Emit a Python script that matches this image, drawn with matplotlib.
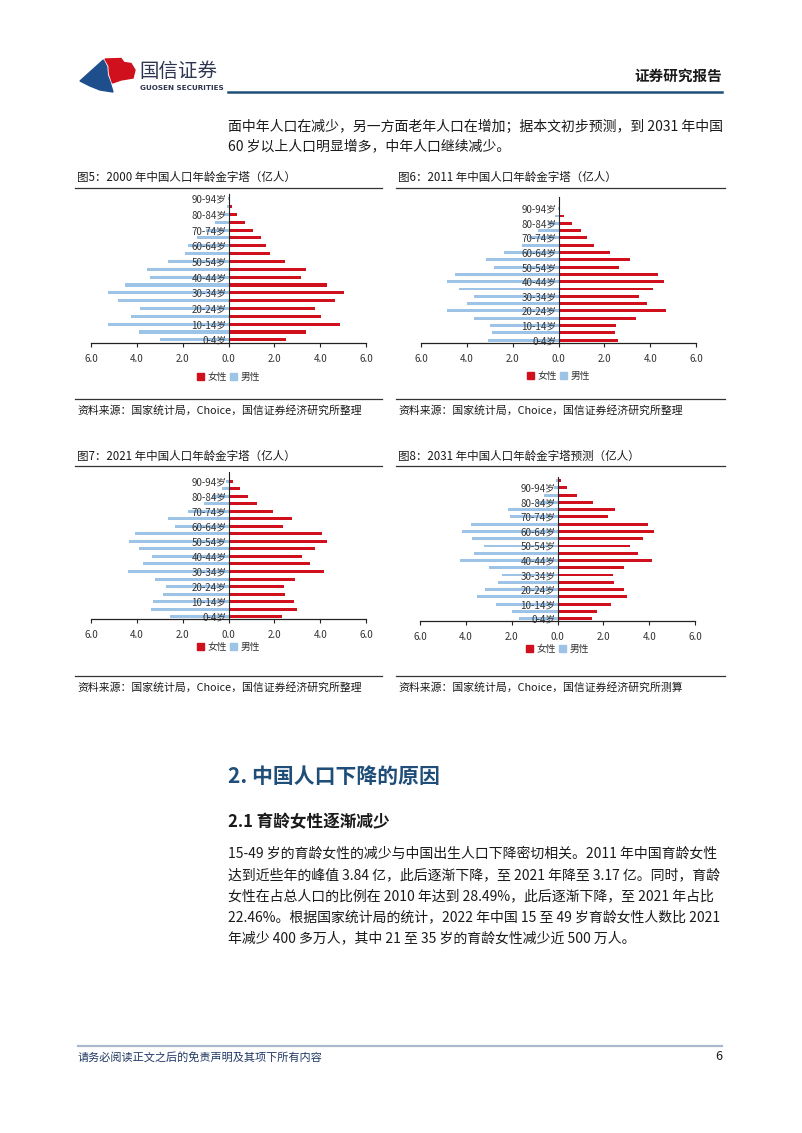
import matplotlib
matplotlib.use('Agg')
import matplotlib.pyplot as plt
from matplotlib.patches import Polygon, Patch
from matplotlib.lines import Line2D

plt.rcParams['font.family'] = ['Noto Sans CJK SC', 'DejaVu Sans']

W, H = 802, 1133

# age groups (5 year bands)
ages = ['0-4岁', '5-9岁', '10-14岁', '15-19岁', '20-24岁', '25-29岁', '30-34岁',
        '35-39岁', '40-44岁', '45-49岁', '50-54岁', '55-59岁', '60-64岁',
        '65-69岁', '70-74岁', '75-79岁', '80-84岁', '85-89岁', '90-94岁']
ages_2031 = ages + ['95-99岁']

female_2000 = [2.52, 3.39, 4.85, 4.03, 3.78, 4.66, 5.02, 4.29, 3.16, 3.36,
               2.47, 1.82, 1.63, 1.40, 1.06, 0.71, 0.39, 0.17, 0.03]
male_2000 = [3.01, 3.89, 5.24, 4.26, 3.86, 4.83, 5.24, 4.51, 3.41, 3.54,
             2.62, 1.92, 1.75, 1.38, 1.00, 0.57, 0.22, 0.08, 0.02]

female_2011 = [2.58, 2.45, 2.53, 3.36, 4.69, 3.88, 3.52, 4.13, 4.61, 4.35,
               2.64, 3.11, 2.26, 1.56, 1.26, 0.96, 0.57, 0.25, 0.07]
male_2011 = [3.09, 2.92, 2.98, 3.69, 4.86, 3.99, 3.68, 4.36, 4.85, 4.53,
             2.80, 3.18, 2.36, 1.59, 1.27, 0.88, 0.47, 0.16, 0.03]

female_2021 = [2.32, 3.01, 2.87, 2.46, 2.43, 2.91, 4.16, 3.55, 3.20, 3.77,
               4.29, 4.07, 2.38, 2.78, 1.96, 1.23, 0.84, 0.51, 0.19]
male_2021 = [2.54, 3.38, 3.28, 2.84, 2.71, 3.20, 4.39, 3.74, 3.33, 3.91,
             4.33, 4.06, 2.33, 2.64, 1.78, 1.09, 0.70, 0.30, 0.10]

female_2031 = [1.51, 1.73, 2.33, 3.02, 2.88, 2.47, 2.43, 2.92, 4.14, 3.53,
               3.18, 3.72, 4.20, 3.94, 2.22, 2.49, 1.57, 0.83, 0.42, 0.15]
male_2031 = [1.66, 1.98, 2.70, 3.52, 3.18, 2.59, 2.43, 2.98, 4.26, 3.63,
             3.20, 3.72, 4.17, 3.76, 2.06, 2.18, 0.90, 0.57, 0.17, 0.05]

xticks = [-6, -4, -2, 0, 2, 4, 6]

RED = '#D0101C'
BLUE = '#9DC3E6'
NAVY = '#1F4E79'
TXT = '#1a1a1a'


def fx(x):
    return x / W


def fy(y):
    return 1 - y / H


fig = plt.figure(figsize=(W / 100, H / 100), dpi=100)


def pyramid(left, right, top, bottom, labels, female, male, ylim, legend_y):
    ax = fig.add_axes([fx(left), fy(bottom), fx(right) - fx(left), fy(top) - fy(bottom)])
    # spine position first, it resets the tick setup
    ax.spines['left'].set_position(('data', 0))
    pos = list(range(len(labels)))
    ax.barh(pos, female, height=0.4, color=RED, zorder=1)
    ax.barh(pos, [-v for v in male], height=0.4, color=BLUE, zorder=1)
    ax.set_xlim(-6, 6)
    ax.set_ylim(*ylim)
    ax.set_xticks(xticks)
    ax.set_xticklabels(['%.1f' % abs(v) for v in xticks])
    ax.set_yticks(pos[::2])
    ax.set_yticklabels(labels[::2])
    ax.tick_params(axis='y', length=0, pad=1.5, labelsize=7, labelcolor='#333333')
    ax.tick_params(axis='x', direction='out', length=3, width=0.8, pad=5,
                   color='#222222', labelsize=7, labelcolor='#333333')
    for s in ['top', 'right']:
        ax.spines[s].set_visible(False)
    ax.spines['left'].set_linewidth(0.8)
    ax.spines['bottom'].set_linewidth(0.9)
    ax.spines['left'].set_color('#222222')
    ax.spines['bottom'].set_color('#222222')
    ax.set_facecolor('none')
    handles = [Patch(color=RED, label='女性'), Patch(color=BLUE, label='男性')]
    fig.legend(handles=handles, loc='center', ncol=2, frameon=False,
               bbox_to_anchor=(fx((left + right) / 2), fy(legend_y)),
               fontsize=7, handlelength=0.7, handleheight=0.7,
               handletextpad=0.35, columnspacing=0.4, labelcolor='#333333')
    return ax


pyramid(91, 366, 194, 343, ages, female_2000, male_2000, (-0.4, 18.6), 377)
pyramid(421, 696, 197, 343, ages, female_2011, male_2011, (-0.4, 19.6), 376)
pyramid(91, 366, 472, 619, ages, female_2021, male_2021, (-0.3, 19.2), 647)
pyramid(420, 695, 477, 621, ages_2031, female_2031, male_2031, (-0.33, 19.5), 649)


def hline(x0, x1, y, color, lw):
    fig.add_artist(Line2D([fx(x0), fx(x1)], [fy(y), fy(y)], color=color, lw=lw))


# header logo
blue_logo = [(80, 81), (103.3, 60), (106.7, 66.7), (107.3, 75), (110, 82),
             (113, 92), (100, 90), (90, 86)]
red_logo = [(105, 59), (121, 58.5), (124, 62.5), (131, 63.5), (135, 70),
            (133, 78), (121, 80), (112.5, 83), (109.5, 74), (109, 66)]
fig.add_artist(Polygon([(fx(x), fy(y)) for x, y in blue_logo], closed=True,
                       color='#1F4E8C', transform=fig.transFigure))
fig.add_artist(Polygon([(fx(x), fy(y)) for x, y in red_logo], closed=True,
                       color='#D0101C', transform=fig.transFigure))
fig.text(fx(139), fy(71), '国信证券', fontsize=14, color='#2E3550', va='center', ha='left')
fig.text(fx(139.5), fy(87.5), 'GUOSEN SECURITIES', fontsize=5.2, color='#2E3550',
         va='center', ha='left', fontweight='bold', family='DejaVu Sans')
fig.text(fx(722), fy(76), '证券研究报告', fontsize=10.5, fontweight='bold', color=TXT,
         va='center', ha='right')
hline(228, 722, 92, NAVY, 1.8)

# opening paragraph
fig.text(fx(228), fy(127), '面中年人口在减少，另一方面老年人口在增加；据本文初步预测，到 2031 年中国',
         fontsize=10, color=TXT, va='center', ha='left')
fig.text(fx(228), fy(146), '60 岁以上人口明显增多，中年人口继续减少。',
         fontsize=10, color=TXT, va='center', ha='left')

# figure titles and source lines
titles = [(77, 177, '图5：2000 年中国人口年龄金字塔（亿人）'),
          (398, 177, '图6：2011 年中国人口年龄金字塔（亿人）'),
          (77, 456, '图7：2021 年中国人口年龄金字塔（亿人）'),
          (398, 456, '图8：2031 年中国人口年龄金字塔预测（亿人）')]
for x, y, t in titles:
    fig.text(fx(x), fy(y), t, fontsize=8.3, color=TXT, va='center', ha='left')

sources = [(77, 410, '资料来源：国家统计局，Choice，国信证券经济研究所整理'),
           (398, 410, '资料来源：国家统计局，Choice，国信证券经济研究所整理'),
           (77, 687, '资料来源：国家统计局，Choice，国信证券经济研究所整理'),
           (398, 687, '资料来源：国家统计局，Choice，国信证券经济研究所测算')]
for x, y, t in sources:
    fig.text(fx(x), fy(y), t, fontsize=7.8, color=TXT, va='center', ha='left')

for x0, x1 in [(75, 382), (396, 725)]:
    hline(x0, x1, 188, '#333333', 0.9)
    hline(x0, x1, 399, '#333333', 0.9)
    hline(x0, x1, 466, '#333333', 0.9)
    hline(x0, x1, 676, '#333333', 0.9)

# section headings
fig.text(fx(228), fy(776), '2. 中国人口下降的原因', fontsize=15, fontweight='bold',
         color=NAVY, va='center', ha='left')
fig.text(fx(228), fy(822), '2.1 育龄女性逐渐减少', fontsize=12, fontweight='bold',
         color=TXT, va='center', ha='left')

para = ['15-49 岁的育龄女性的减少与中国出生人口下降密切相关。2011 年中国育龄女性',
        '达到近些年的峰值 3.84 亿，此后逐渐下降，至 2021 年降至 3.17 亿。同时，育龄',
        '女性在占总人口的比例在 2010 年达到 28.49%，此后逐渐下降，至 2021 年占比',
        '22.46%。根据国家统计局的统计，2022 年中国 15 至 49 岁育龄女性人数比 2021',
        '年减少 400 多万人，其中 21 至 35 岁的育龄女性减少近 500 万人。']
for i, line in enumerate(para):
    fig.text(fx(228), fy(854 + 21 * i), line, fontsize=10, color=TXT, va='center', ha='left')

# footer
hline(78, 722, 1046, '#A9B8CC', 1.6)
fig.text(fx(78), fy(1057), '请务必阅读正文之后的免责声明及其项下所有内容', fontsize=8,
         color='#1F3864', style='italic', va='center', ha='left')
fig.text(fx(722), fy(1057), '6', fontsize=9, color=TXT, va='center', ha='right')

fig.savefig('out.png', dpi=100, facecolor='white')
